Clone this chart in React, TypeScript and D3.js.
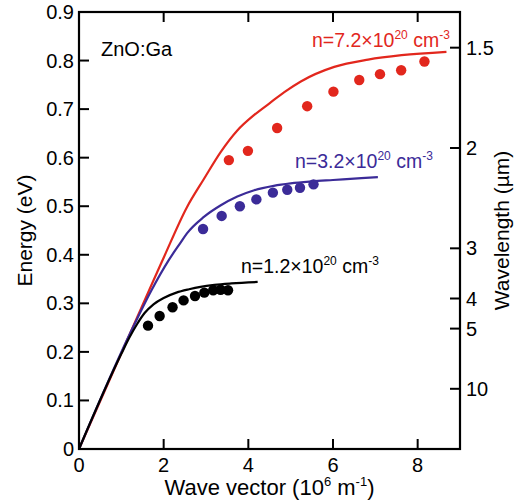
import React from 'react';
import * as d3 from 'd3';

const xTicks = [0, 2, 4, 6, 8];
const yTicks = [0, 0.1, 0.2, 0.3, 0.4, 0.5, 0.6, 0.7, 0.8, 0.9];
const wlTicks = [1.5, 2, 3, 4, 5, 10];

const redCurve: [number, number][] = [[0, 0], [1, 0.197], [2, 0.394], [2.55, 0.498], [2.95, 0.556], [3.35, 0.612], [3.74, 0.656], [4.14, 0.688], [4.5, 0.712], [4.85, 0.735], [5.24, 0.757], [6.03, 0.787], [6.83, 0.802], [7.62, 0.811], [8.68, 0.818]];
const blueCurve: [number, number][] = [[0, 0], [1.25, 0.246], [1.7, 0.325], [2.12, 0.389], [2.4, 0.425], [2.55, 0.444], [2.95, 0.478], [3.35, 0.502], [3.74, 0.52], [4.14, 0.533], [4.6, 0.542], [5.0, 0.547], [5.5, 0.551], [6.0, 0.554], [6.67, 0.558], [7.06, 0.56]];
const blackCurve: [number, number][] = [[0, 0], [1.0, 0.196], [1.2, 0.231], [1.37, 0.257], [1.55, 0.28], [1.76, 0.298], [2.0, 0.311], [2.3, 0.322], [2.6, 0.329], [2.87, 0.334], [3.2, 0.338], [3.6, 0.341], [4.22, 0.344]];

const redDots: [number, number][] = [[3.54, 0.595], [3.99, 0.614], [4.68, 0.661], [5.39, 0.706], [6.01, 0.736], [6.62, 0.76], [7.11, 0.772], [7.61, 0.78], [8.16, 0.798]];
const blueDots: [number, number][] = [[2.93, 0.453], [3.37, 0.48], [3.8, 0.5], [4.19, 0.514], [4.58, 0.528], [4.92, 0.534], [5.22, 0.538], [5.54, 0.545]];
const blackDots: [number, number][] = [[1.63, 0.254], [1.905, 0.274], [2.21, 0.292], [2.47, 0.306], [2.74, 0.315], [2.96, 0.322], [3.17, 0.327], [3.345, 0.328], [3.52, 0.327]];

const RED = '#e2271d';
const BLUE = '#3b2b98';
const BLACK = '#000000';
const FONT = '"Liberation Sans", Arial, sans-serif';

export default function App() {
  const W = 522, H = 504;
  const L = 79, R = 460, T = 12, B = 449;
  const x = d3.scaleLinear().domain([0, 9]).range([L, R]);
  const y = d3.scaleLinear().domain([0, 0.9]).range([B, T]);
  const line = d3.line<[number, number]>().x(d => x(d[0])).y(d => y(d[1])).curve(d3.curveMonotoneX);
  const tick = 10;
  const series = [
    { curve: redCurve, dots: redDots, color: RED },
    { curve: blueCurve, dots: blueDots, color: BLUE },
    { curve: blackCurve, dots: blackDots, color: BLACK },
  ];
  const sup = (s: string) => (
    <tspan fontSize="12" dy="-8">{s}</tspan>
  );
  const label = (txt: string, xx: number, yy: number, color: string) => (
    <text x={xx} y={yy} fill={color} fontSize="19.5" fontFamily={FONT}>
      {txt}{sup('20')}<tspan dy="8"> cm</tspan>{sup('-3')}
    </text>
  );
  return (
    <svg width={W} height={H} style={{ position: 'absolute', left: 0, top: 0, background: '#fff' }}>
      {series.map((s, i) => (
        <g key={i}>
          <path d={line(s.curve) || ''} fill="none" stroke={s.color} strokeWidth={2.2} />
          {s.dots.map((d, j) => (
            <circle key={j} cx={x(d[0])} cy={y(d[1])} r={5.2} fill={s.color} />
          ))}
        </g>
      ))}
      <rect x={L} y={T} width={R - L} height={B - T} fill="none" stroke="#000" strokeWidth={2.2} />
      {xTicks.filter(t => t > 0).map(t => (
        <g key={'x' + t}>
          <line x1={x(t)} x2={x(t)} y1={B} y2={B - tick} stroke="#000" strokeWidth={2} />
          <line x1={x(t)} x2={x(t)} y1={T} y2={T + tick} stroke="#000" strokeWidth={2} />
        </g>
      ))}
      {xTicks.map(t => (
        <text key={'xl' + t} x={x(t)} y={472} textAnchor="middle" fontSize="20" fontFamily={FONT}>{t}</text>
      ))}
      {yTicks.map(t => (
        <g key={'y' + t}>
          {t > 0 && t < 0.9 && <line x1={L} x2={L + tick} y1={y(t)} y2={y(t)} stroke="#000" strokeWidth={2} />}
          <text x={L - 5} y={y(t) + 7} textAnchor="end" fontSize="20" fontFamily={FONT}>{t === 0 ? '0' : d3.format('.1f')(t)}</text>
        </g>
      ))}
      {wlTicks.map(w => (
        <g key={'w' + w}>
          <line x1={R} x2={R - tick} y1={y(1.2398 / w)} y2={y(1.2398 / w)} stroke="#000" strokeWidth={2} />
          <text x={R + 6} y={y(1.2398 / w) + 7} fontSize="20" fontFamily={FONT}>{w}</text>
        </g>
      ))}
      <text x={269.5} y={495} textAnchor="middle" fontSize="22" fontFamily={FONT}>
        Wave vector (10<tspan fontSize="13" dy="-9">6</tspan><tspan dy="9"> m</tspan><tspan fontSize="13" dy="-9">-1</tspan><tspan dy="9">)</tspan>
      </text>
      <text transform={`translate(32,${(T + B) / 2}) rotate(-90)`} textAnchor="middle" fontSize="21" fontFamily={FONT}>Energy (eV)</text>
      <text transform={`translate(509,${(T + B) / 2}) rotate(-90)`} textAnchor="middle" fontSize="21" fontFamily={FONT}>Wavelength (µm)</text>
      <text x={101} y={56} fontSize="20" fontFamily={FONT}>ZnO:Ga</text>
      {label('n=7.2×10', 312, 47, RED)}
      {label('n=3.2×10', 295, 168, BLUE)}
      {label('n=1.2×10', 241, 273, BLACK)}
    </svg>
  );
}
